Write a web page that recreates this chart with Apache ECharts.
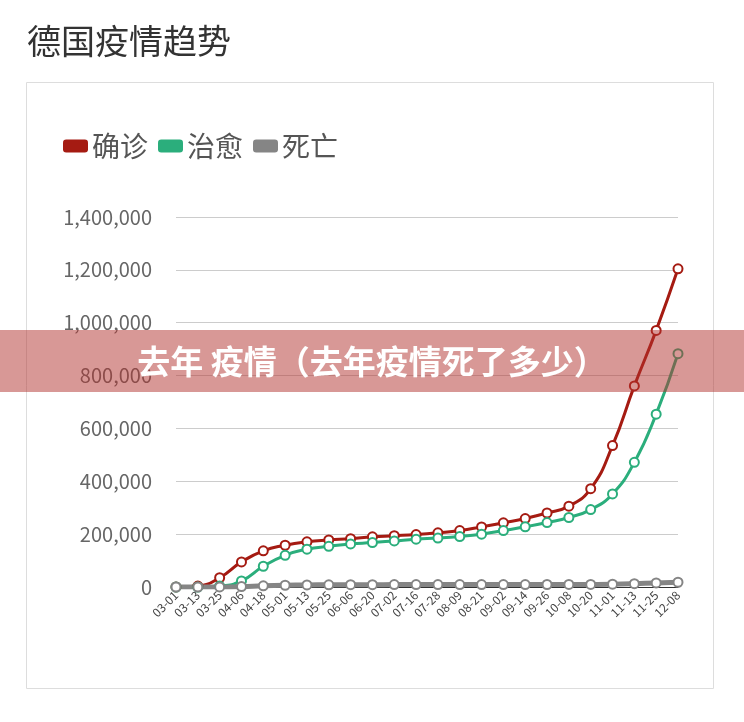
<html>
<head>
    <meta charset="utf-8">
    <title>德国疫情趋势</title>
    <style>
        html, body, #main {
            padding: 0;
            margin: 0;
            width: 100%;
            height: 100%;
            background: #fff;
        }
    </style>
    <script src="https://cdn.jsdelivr.net/npm/echarts@6/dist/echarts.min.js"></script>
</head>
<body>
    <div id="main"></div>
    <script>
        // data
        var dates = ['03-01', '03-13', '03-25', '04-06', '04-18', '05-01', '05-13', '05-25', '06-06', '06-20',
            '07-02', '07-16', '07-28', '08-09', '08-21', '09-02', '09-14', '09-26', '10-08', '10-20',
            '11-01', '11-13', '11-25', '12-08'];
        var confirmed = [130, 3700, 35000, 95000, 137000, 158000, 171000, 178000, 183000, 190000,
            194000, 198500, 205000, 213500, 227500, 243000, 259000, 280000, 306000, 372000,
            535000, 761000, 971000, 1204000];
        var recovered = [16, 46, 3500, 23000, 78500, 120000, 143000, 154000, 163000, 168000,
            174500, 181000, 185000, 191000, 200000, 213600, 227600, 244000, 263000, 293000,
            352000, 471600, 654000, 883000];
        var deaths = [0, 7, 200, 1600, 4500, 6600, 7700, 8300, 8700, 8900,
            9000, 9100, 9200, 9300, 9300, 9300, 9400, 9500, 9600, 9800,
            10500, 12500, 15500, 18000];
        var seriesNames = ['确诊', '治愈', '死亡'];
        var yTicks = { min: 0, max: 1400000, interval: 200000 };

        var FONT = '"Noto Sans CJK SC", "Noto Sans", sans-serif';

        function lineSeries(name, values, color, width) {
            return {
                name: name,
                type: 'line',
                data: values,
                smooth: true,
                symbol: 'emptyCircle',
                symbolSize: 9,
                showAllSymbol: true,
                itemStyle: { color: color, borderWidth: 1.2 },
                lineStyle: { color: color, width: width }
            };
        }

        var chart = echarts.init(document.getElementById('main'));
        chart.setOption({
            animation: false,
            textStyle: { fontFamily: FONT },
            title: {
                text: '德国疫情趋势',
                left: 22,
                top: 19,
                textStyle: { fontSize: 34, fontWeight: 'normal', color: '#333', fontFamily: FONT }
            },
            legend: {
                data: seriesNames,
                left: 58,
                top: 127,
                icon: 'roundRect',
                itemWidth: 25,
                itemHeight: 13,
                itemGap: 10,
                textStyle: { fontSize: 28, color: '#555', fontFamily: FONT, padding: [0, 0, 0, -1] }
            },
            grid: {
                left: 176,
                right: 66,
                top: 217,
                bottom: 135
            },
            xAxis: {
                type: 'category',
                data: dates,
                boundaryGap: false,
                axisLine: { lineStyle: { color: '#333', width: 1 } },
                axisTick: { show: false },
                axisLabel: {
                    interval: 0,
                    rotate: 45,
                    fontSize: 12,
                    color: '#444',
                    margin: 6
                }
            },
            yAxis: {
                type: 'value',
                min: yTicks.min,
                max: yTicks.max,
                interval: yTicks.interval,
                axisLine: { show: false },
                axisTick: { show: false },
                splitLine: { lineStyle: { color: '#ccc' } },
                axisLabel: { fontSize: 20, color: '#666', margin: 24, fontFamily: FONT }
            },
            series: [
                lineSeries(seriesNames[0], confirmed, '#a51b12', 3),
                lineSeries(seriesNames[1], recovered, '#2bae7c', 3),
                lineSeries(seriesNames[2], deaths, '#858585', 5)
            ],
            graphic: [
                {
                    type: 'rect',
                    shape: { x: 26.5, y: 82.5, width: 687, height: 606 },
                    style: { fill: 'none', stroke: '#ddd', lineWidth: 1 },
                    z: -1
                },
                {
                    type: 'rect',
                    shape: { x: 0, y: 330, width: 744, height: 62 },
                    style: { fill: 'rgba(178,50,46,0.5)' },
                    z: 100
                },
                {
                    type: 'text',
                    x: 372,
                    y: 361,
                    style: {
                        text: '去年 疫情（去年疫情死了多少）',
                        fill: '#fff',
                        fontSize: 33,
                        fontWeight: 'bold',
                        fontFamily: FONT,
                        align: 'center',
                        verticalAlign: 'middle'
                    },
                    z: 101
                }
            ]
        });
    </script>
</body>
</html>
